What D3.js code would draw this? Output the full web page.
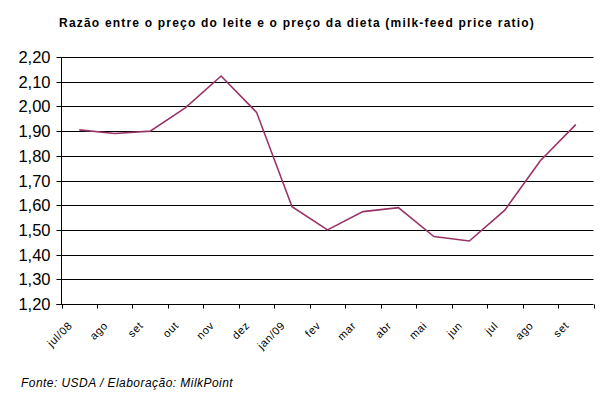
<!DOCTYPE html>
<html><head><meta charset="utf-8">
<script src="https://cdn.jsdelivr.net/npm/d3@7"></script>
<style>
html,body{margin:0;padding:0;background:#fff;}
svg{display:block;}
text{font-family:"Liberation Sans",Arial,sans-serif;}
</style></head>
<body>
<svg id="c" width="610" height="397"></svg>
<script>
const categories = ["jul/08","ago","set","out","nov","dez","jan/09","fev","mar","abr","mai","jun","jul","ago","set"];
const ratio = [1.905, 1.89, 1.90, 1.995, 2.123, 1.976, 1.594, 1.50, 1.574, 1.59, 1.473, 1.455, 1.58, 1.78, 1.926];
const yTicks = [1.2,1.3,1.4,1.5,1.6,1.7,1.8,1.9,2.0,2.1,2.2];
const title = "Razão entre o preço do leite e o preço da dieta (milk-feed price ratio)";
const source = "Fonte: USDA / Elaboração: MilkPoint";

const svg = d3.select("#c");
const L = 61.5, R = 593.5, T = 57, B = 304;
const keys = categories.map((c,i)=>i);
const x = d3.scaleBand().domain(keys).range([L,R]).padding(0);
const y = d3.scaleLinear().domain([1.2,2.2]).range([B,T]);
const fmt = v => d3.format(".2f")(v).replace(".",",");

// gridlines
svg.append("g").selectAll("line").data(yTicks.slice(1)).join("line")
  .attr("x1",L).attr("x2",R).attr("y1",d=>Math.round(y(d))+0.5).attr("y2",d=>Math.round(y(d))+0.5)
  .attr("stroke","#000").attr("stroke-width",1);

// y axis
const ya = svg.append("g").attr("transform",`translate(${Math.round(L)-0.5},0)`)
  .call(d3.axisLeft(y).tickValues(yTicks).tickFormat(fmt).tickSize(5).tickPadding(6));
ya.select(".domain").attr("stroke","#000").attr("d",`M-5,${B}.5H0V${T}`);
ya.selectAll(".tick line").attr("stroke","#000");
ya.selectAll(".tick").attr("transform",d=>`translate(0,${Math.round(y(d))+0.5})`);
ya.selectAll("text").style("font-size","16.5px").attr("fill","#000").attr("dy","0.36em");

// x axis
const xa = svg.append("g").attr("transform",`translate(0,${B+0.5})`);
xa.append("line").attr("x1",L-0.5).attr("x2",R).attr("stroke","#000");
const tickPos = d3.range(categories.length+1).map(i=>L + i*x.bandwidth());
xa.selectAll("line.t").data(tickPos).join("line").attr("class","t")
  .attr("x1",d=>Math.round(d)+0.5).attr("x2",d=>Math.round(d)+0.5).attr("y1",0).attr("y2",4)
  .attr("stroke","#000");
xa.selectAll("text").data(keys).join("text")
  .attr("transform",d=>`translate(${x(d)+x.bandwidth()/2-9},${19}) rotate(-45)`)
  .attr("text-anchor","end").attr("dy","0.35em")
  .style("font-size","11px").style("letter-spacing","0.6px").attr("fill","#000")
  .text(d=>categories[d]);

// line
const line = d3.line().x((d,i)=>x(i)+x.bandwidth()/2).y(d=>y(d));
svg.append("path").datum(ratio).attr("d",line)
  .attr("fill","none").attr("stroke","#993366").attr("stroke-width",1.6);

// title
svg.append("text").attr("x",297).attr("y",27).attr("text-anchor","middle")
  .style("font-size","12px").style("font-weight","bold").style("letter-spacing","1.2px")
  .attr("fill","#000").text(title);

// source
svg.append("text").attr("x",21).attr("y",387)
  .style("font-size","12px").style("font-style","italic").style("letter-spacing","0.45px")
  .attr("fill","#000").text(source);
</script>
</body></html>
